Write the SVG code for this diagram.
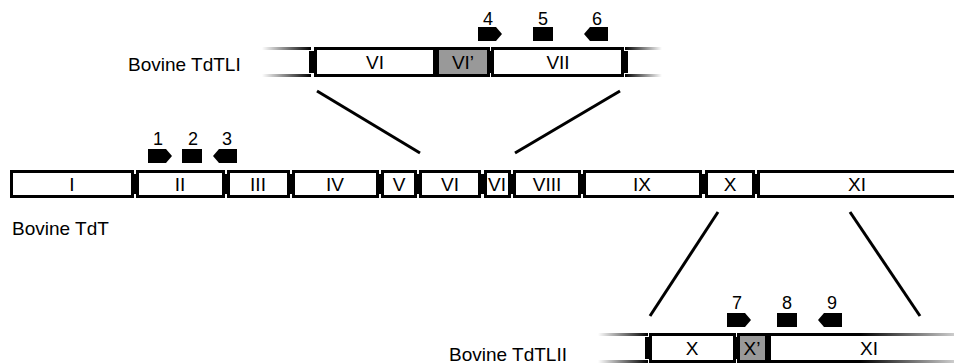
<svg xmlns="http://www.w3.org/2000/svg" width="954" height="364" viewBox="0 0 954 364">
<style>
.box{fill:#fff;stroke:#000;stroke-width:3}
.gbox{fill:#999;stroke:#000;stroke-width:3}
.join{fill:#000}
.lbl{font-family:"Liberation Sans",Arial,sans-serif;font-size:19px;fill:#000;text-anchor:middle}
.title{font-family:"Liberation Sans",Arial,sans-serif;font-size:19px;fill:#000}
.num{font-family:"Liberation Sans",Arial,sans-serif;font-size:18px;fill:#000;text-anchor:middle}
.primer{fill:#000}
.conn{stroke:#000;stroke-width:3;fill:none}
</style>
<defs>
<linearGradient id="fadeL1" gradientUnits="userSpaceOnUse" x1="262" y1="0" x2="311" y2="0"><stop offset="0" stop-color="#000" stop-opacity="0"/><stop offset="1" stop-color="#000"/></linearGradient>
<linearGradient id="fadeR1" gradientUnits="userSpaceOnUse" x1="625" y1="0" x2="662" y2="0"><stop offset="0" stop-color="#000"/><stop offset="1" stop-color="#000" stop-opacity="0"/></linearGradient>
<linearGradient id="fadeL2" gradientUnits="userSpaceOnUse" x1="598" y1="0" x2="648" y2="0"><stop offset="0" stop-color="#000" stop-opacity="0"/><stop offset="1" stop-color="#000"/></linearGradient>
<linearGradient id="fadeR2" gradientUnits="userSpaceOnUse" x1="860" y1="0" x2="960" y2="0"><stop offset="0" stop-color="#000"/><stop offset="1" stop-color="#000" stop-opacity="0.15"/></linearGradient>
</defs>

<g id="connectors">
<line class="conn" x1="317" y1="91" x2="420" y2="153"/>
<line class="conn" x1="620" y1="91" x2="515" y2="153"/>
<line class="conn" x1="718" y1="212" x2="650" y2="316"/>
<line class="conn" x1="850" y1="212" x2="920" y2="316"/>
</g>

<g id="tdt">
<text class="title" x="12" y="235">Bovine TdT</text>
<rect class="join" x="131" y="174" width="8" height="20"/>
<rect class="join" x="222" y="174" width="8" height="20"/>
<rect class="join" x="287" y="174" width="8" height="20"/>
<rect class="join" x="376" y="174" width="8" height="20"/>
<rect class="join" x="414" y="174" width="8" height="20"/>
<rect class="join" x="478" y="174" width="9" height="20"/>
<rect class="join" x="508" y="174" width="8" height="20"/>
<rect class="join" x="578" y="174" width="8" height="20"/>
<rect class="join" x="699" y="174" width="9" height="20"/>
<rect class="join" x="752" y="174" width="8" height="20"/>
<g id="tdt-I"><rect class="box" x="11.5" y="171.5" width="121" height="25"/><text class="lbl" x="72" y="191">I</text></g>
<g id="tdt-II"><rect class="box" x="137.5" y="171.5" width="86" height="25"/><text class="lbl" x="180" y="191">II</text></g>
<g id="tdt-III"><rect class="box" x="228.5" y="171.5" width="60" height="25"/><text class="lbl" x="258" y="191">III</text></g>
<g id="tdt-IV"><rect class="box" x="293.5" y="171.5" width="84" height="25"/><text class="lbl" x="335" y="191">IV</text></g>
<g id="tdt-V"><rect class="box" x="382.5" y="171.5" width="33" height="25"/><text class="lbl" x="399" y="191">V</text></g>
<g id="tdt-VI"><rect class="box" x="420.5" y="171.5" width="59" height="25"/><text class="lbl" x="450" y="191">VI</text></g>
<g id="tdt-VII"><rect class="box" x="485.5" y="171.5" width="24" height="25"/><text class="lbl" x="497" y="191">VI</text></g>
<g id="tdt-VIII"><rect class="box" x="514.5" y="171.5" width="65" height="25"/><text class="lbl" x="547" y="191">VIII</text></g>
<g id="tdt-IX"><rect class="box" x="584.5" y="171.5" width="116" height="25"/><text class="lbl" x="642" y="191">IX</text></g>
<g id="tdt-X"><rect class="box" x="706.5" y="171.5" width="47" height="25"/><text class="lbl" x="730" y="191">X</text></g>
<g id="tdt-XI"><rect class="box" x="758.5" y="171.5" width="210" height="25"/><text class="lbl" x="857" y="191">XI</text></g>
<g id="primers-1-3">
<polygon class="primer" points="148,149 166,149 172,156 166,163 148,163"/>
<rect class="primer" x="182" y="149" width="20" height="14"/>
<polygon class="primer" points="213,156 219,149 237,149 237,163 219,163"/>
<text class="num" x="158" y="145">1</text>
<text class="num" x="193" y="145">2</text>
<text class="num" x="227" y="145">3</text>
</g>
</g>

<g id="tdtl1">
<text class="title" x="128" y="71">Bovine TdTLI</text>
<path d="M262 48.5H311M262 75.5H311" stroke="url(#fadeL1)" stroke-width="3" fill="none"/>
<path d="M625 48.5H662M625 75.5H662" stroke="url(#fadeR1)" stroke-width="3" fill="none"/>
<rect class="join" x="309" y="51" width="8" height="22"/>
<rect class="join" x="433" y="51" width="6" height="22"/>
<rect class="join" x="487" y="51" width="7" height="22"/>
<rect class="join" x="621" y="51" width="7" height="22"/>
<g id="tdtl1-VI"><rect class="box" x="315.5" y="48.5" width="119" height="27"/><text class="lbl" x="375" y="69">VI</text></g>
<g id="tdtl1-VIp"><rect class="gbox" x="437.5" y="48.5" width="51" height="27"/><text class="lbl" x="463" y="69">VI’</text></g>
<g id="tdtl1-VII"><rect class="box" x="492.5" y="48.5" width="130" height="27"/><text class="lbl" x="558" y="69">VII</text></g>
<g id="primers-4-6">
<polygon class="primer" points="478,27 496,27 502,34 496,41 478,41"/>
<rect class="primer" x="533" y="27" width="20" height="14"/>
<polygon class="primer" points="584,34 590,27 608,27 608,41 590,41"/>
<text class="num" x="488" y="25">4</text>
<text class="num" x="543" y="25">5</text>
<text class="num" x="597" y="25">6</text>
</g>
</g>

<g id="tdtl2">
<text class="title" x="449" y="361">Bovine TdTLII</text>
<path d="M598 334.5H648M598 361.5H648" stroke="url(#fadeL2)" stroke-width="3" fill="none"/>
<rect class="join" x="645" y="337" width="7" height="22"/>
<rect class="join" x="733" y="337" width="7" height="22"/>
<rect class="join" x="765" y="337" width="7" height="22"/>
<g id="tdtl2-X"><rect class="box" x="650.5" y="334.5" width="84" height="27"/><text class="lbl" x="692" y="355">X</text></g>
<g id="tdtl2-Xp"><rect class="gbox" x="738.5" y="334.5" width="28" height="27"/><text class="lbl" x="752" y="355">X’</text></g>
<g id="tdtl2-XI">
<rect x="770" y="336" width="184" height="24" fill="#fff"/>
<path d="M769.5 333V363" stroke="#000" stroke-width="3"/>
<path d="M768 334.5H954M768 361.5H954" stroke="url(#fadeR2)" stroke-width="3" fill="none"/>
<text class="lbl" x="869" y="355">XI</text>
</g>
<g id="primers-7-9">
<polygon class="primer" points="727,313 745,313 751,320 745,327 727,327"/>
<rect class="primer" x="777" y="313" width="20" height="14"/>
<polygon class="primer" points="818,320 824,313 842,313 842,327 824,327"/>
<text class="num" x="737" y="309">7</text>
<text class="num" x="787" y="309">8</text>
<text class="num" x="832" y="309">9</text>
</g>
</g>
</svg>
